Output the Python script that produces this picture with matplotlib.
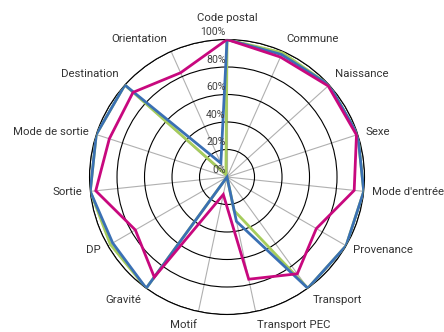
import matplotlib.pyplot as plt
import numpy as np

categories = ["Code postal", "Commune", "Naissance", "Sexe", "Mode d'entrée",
              "Provenance", "Transport", "Transport PEC", "Motif", "Gravité",
              "DP", "Sortie", "Mode de sortie", "Destination", "Orientation"]

green_vals = [100, 99, 100, 100, 100, 100, 100, 25, 0, 100, 98, 100, 100, 100, 2]
blue_vals = [100, 97.5, 100, 100, 100, 100, 100, 33, 0, 100, 96, 100, 100, 100, 11]
magenta_vals = [100, 95.5, 99, 99, 93, 75, 87, 76, 13, 90, 77, 96, 90, 92, 83]

r_ticks = [0, 20, 40, 60, 80, 100]

plt.rcParams['font.family'] = ['Roboto', 'DejaVu Sans']

fig = plt.figure(figsize=(4.44, 3.32), dpi=100)
ax = fig.add_axes([0.2016, 0.0527, 0.6194, 0.8283], projection="polar")
ax.set_theta_offset(np.pi / 2)
ax.set_theta_direction(-1)

n = len(categories)
angles = np.arange(n) * 2 * np.pi / n
closed = np.append(angles, angles[0])

for vals, col in [(green_vals, "#a6cc5c"), (blue_vals, "#3a70b4"), (magenta_vals, "#c8087e")]:
    v = np.append(vals, vals[0])
    ax.plot(closed, v, color=col, lw=2.0, solid_joinstyle="miter", zorder=3)

ax.set_ylim(0, 100)
ax.set_rgrids(r_ticks[1:], labels=[])
ax.set_thetagrids(np.degrees(angles), labels=[])
ax.yaxis.grid(True, color="black", lw=0.8)
ax.xaxis.grid(True, color="#b0b0b0", lw=0.8)
ax.spines["polar"].set_color("black")
ax.spines["polar"].set_linewidth(0.8)
ax.tick_params(length=0)

# radial value labels
for t in r_ticks:
    ax.annotate(f"{t}%", xy=(0, t), xytext=(-1, 1.5), textcoords="offset points",
                ha="right", va="bottom", fontsize=7.6, color="#404040", zorder=4)

# category labels outside the circle
for a, lab in zip(angles, categories):
    th = np.pi / 2 - a
    c, s = np.cos(th), np.sin(th)
    ha = "left" if c > 0.1 else ("right" if c < -0.1 else "center")
    va = "bottom" if s > 0.6 else ("top" if s < -0.6 else "center")
    r = 112 if ha == "center" else 106
    ax.text(a, r, lab, ha=ha, va=va, fontsize=8.2, color="#333333")

plt.savefig("out.png", dpi=100)
